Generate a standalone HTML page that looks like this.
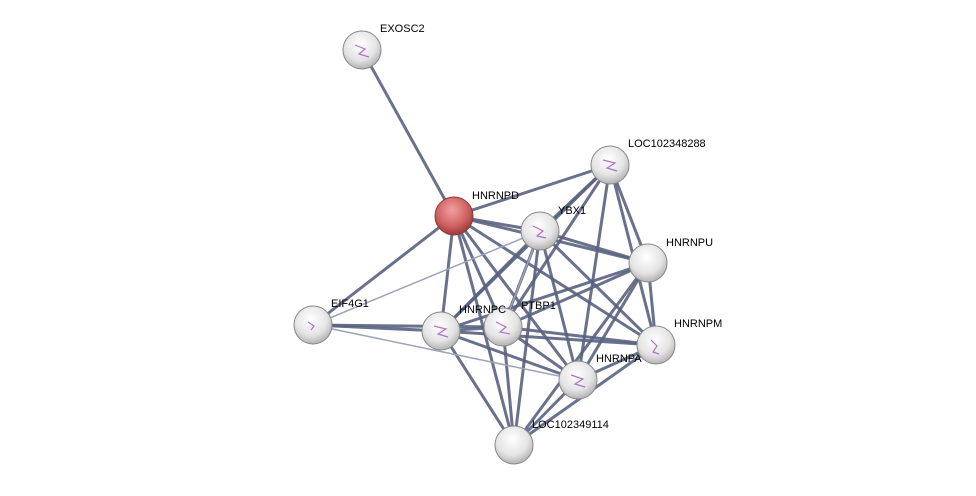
<!DOCTYPE html>
<html><head><meta charset="utf-8"><style>
html,body{margin:0;padding:0;background:#fff;}
svg text{font-family:"Liberation Sans",sans-serif;font-size:11px;fill:#000;}
</style></head><body>
<svg width="976" height="491" viewBox="0 0 976 491" xmlns="http://www.w3.org/2000/svg">
<defs>
<radialGradient id="g" cx="45%" cy="35%" r="70%">
<stop offset="0" stop-color="#ffffff"/><stop offset="0.6" stop-color="#e4e4e4"/><stop offset="1" stop-color="#a8a8a8"/>
</radialGradient>
<radialGradient id="r" cx="45%" cy="35%" r="70%">
<stop offset="0" stop-color="#f0a0a0"/><stop offset="0.6" stop-color="#d06060"/><stop offset="1" stop-color="#903030"/>
</radialGradient>
</defs>
<g stroke="#59627f" stroke-width="3" stroke-opacity="0.9">
<line x1="362" y1="50" x2="454" y2="216"/>
<line x1="454" y1="216" x2="610" y2="165"/>
<line x1="454" y1="216" x2="540" y2="231"/>
<line x1="454" y1="216" x2="648" y2="263"/>
<line x1="454" y1="216" x2="313" y2="325"/>
<line x1="454" y1="216" x2="441" y2="331"/>
<line x1="454" y1="216" x2="503" y2="327"/>
<line x1="454" y1="216" x2="578" y2="380"/>
<line x1="454" y1="216" x2="656" y2="345"/>
<line x1="454" y1="216" x2="514" y2="445"/>
<line x1="313" y1="325" x2="441" y2="331"/>
<line x1="313" y1="325" x2="503" y2="327"/>
<line x1="540" y1="231" x2="610" y2="165"/>
<line x1="540" y1="231" x2="648" y2="263"/>
<line x1="540" y1="231" x2="441" y2="331"/>
<line x1="540" y1="231" x2="503" y2="327"/>
<line x1="540" y1="231" x2="578" y2="380"/>
<line x1="540" y1="231" x2="656" y2="345"/>
<line x1="540" y1="231" x2="514" y2="445"/>
<line x1="610" y1="165" x2="648" y2="263"/>
<line x1="610" y1="165" x2="656" y2="345"/>
<line x1="610" y1="165" x2="578" y2="380"/>
<line x1="610" y1="165" x2="503" y2="327"/>
<line x1="610" y1="165" x2="441" y2="331"/>
<line x1="648" y1="263" x2="656" y2="345"/>
<line x1="648" y1="263" x2="578" y2="380"/>
<line x1="648" y1="263" x2="503" y2="327"/>
<line x1="648" y1="263" x2="441" y2="331"/>
<line x1="648" y1="263" x2="514" y2="445"/>
<line x1="441" y1="331" x2="503" y2="327"/>
<line x1="441" y1="331" x2="578" y2="380"/>
<line x1="441" y1="331" x2="656" y2="345"/>
<line x1="441" y1="331" x2="514" y2="445"/>
<line x1="503" y1="327" x2="578" y2="380"/>
<line x1="503" y1="327" x2="656" y2="345"/>
<line x1="503" y1="327" x2="514" y2="445"/>
<line x1="578" y1="380" x2="656" y2="345"/>
<line x1="578" y1="380" x2="514" y2="445"/>
<line x1="656" y1="345" x2="514" y2="445"/>
</g>
<g stroke="#9ea4b8" stroke-width="1.5">
<line x1="313" y1="325" x2="540" y2="231"/>
<line x1="313" y1="325" x2="578" y2="380"/>
<line x1="503" y1="327" x2="540" y2="231"/>
</g>
<g stroke="#888" stroke-width="1">
<circle cx="362" cy="50" r="19" fill="url(#g)"/>
<circle cx="610" cy="165" r="19" fill="url(#g)"/>
<circle cx="454" cy="216" r="19" fill="url(#r)" stroke="#8a3a3a"/>
<circle cx="540" cy="231" r="19" fill="url(#g)"/>
<circle cx="648" cy="263" r="19" fill="url(#g)"/>
<circle cx="313" cy="325" r="19" fill="url(#g)"/>
<circle cx="441" cy="331" r="19" fill="url(#g)"/>
<circle cx="503" cy="327" r="19" fill="url(#g)"/>
<circle cx="656" cy="345" r="19" fill="url(#g)"/>
<circle cx="578" cy="380" r="19" fill="url(#g)"/>
<circle cx="514" cy="445" r="19" fill="url(#g)"/>
</g>
<g fill="none" stroke="#b070d0" stroke-width="1.2">
<path d="M355 45 l10 4 l-6 5 l10 3"/>
<path d="M603 160 l12 3 l-8 5 l10 3"/>
<path d="M533 226 l10 5 l-6 5 l9 2"/>
<path d="M434 326 l12 3 l-8 5 l10 3"/>
<path d="M496 322 l10 5 l-6 5 l10 2"/>
<path d="M651 340 l6 6 l-4 6 l6 2"/>
<path d="M571 375 l12 4 l-8 5 l10 3"/>
<path d="M308 322 l6 4 l-3 4"/>
</g>
<text x="380" y="32">EXOSC2</text>
<text x="628" y="147">LOC102348288</text>
<text x="472" y="199">HNRNPD</text>
<text x="558" y="214">YBX1</text>
<text x="666" y="246">HNRNPU</text>
<text x="331" y="307">EIF4G1</text>
<text x="459" y="313">HNRNPC</text>
<text x="521" y="309">PTBP1</text>
<text x="674" y="327">HNRNPM</text>
<text x="596" y="362">HNRNPA</text>
<text x="532" y="428">LOC102349114</text>
</svg>
</body></html>
